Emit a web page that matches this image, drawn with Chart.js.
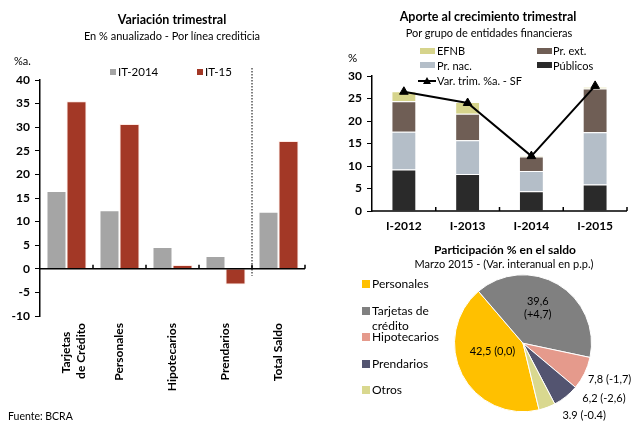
<!DOCTYPE html>
<html>
<head>
<meta charset="utf-8">
<script src="https://cdn.jsdelivr.net/npm/chart.js@4.4.1/dist/chart.umd.min.js"></script>
<style>
  body { margin: 0; background: #fff; font-family: Lato, sans-serif; color: #000; }
  #hoja { position: relative; width: 638px; height: 421px; overflow: hidden; }
  canvas { position: absolute; }
  .t { position: absolute; white-space: nowrap; line-height: 1; }
  .c { transform: translateX(-50%); }
  .b { font-weight: bold; }
  .sw { position: absolute; }
</style>
</head>
<body>
<div id="hoja">
  <canvas id="variacion" width="320" height="421" style="left:0;top:0"></canvas>
  <canvas id="aporte" width="308" height="235" style="left:330px;top:0"></canvas>
  <canvas id="participacion" width="308" height="186" style="left:330px;top:235px"></canvas>

  <!-- textos panel izquierdo -->
  <div class="t c b" style="left:172px;top:14px;font-size:12.5px">Variación trimestral</div>
  <div class="t c" style="left:172px;top:30px;font-size:11px">En % anualizado - Por línea crediticia</div>
  <div class="t" style="left:14px;top:55px;font-size:11px">%a.</div>
  <div class="sw" style="left:110px;top:69px;width:6px;height:6px;background:#a5a5a5"></div>
  <div class="t" style="left:118px;top:66px;font-size:11.5px">IT-2014</div>
  <div class="sw" style="left:197px;top:69px;width:6px;height:6px;background:#a33826"></div>
  <div class="t" style="left:205px;top:66px;font-size:11.5px">IT-15</div>
  <div class="t" style="left:8px;top:411px;font-size:10.5px">Fuente: BCRA</div>

  <!-- textos panel superior derecho -->
  <div class="t c b" style="left:488px;top:11px;font-size:12.5px">Aporte al crecimiento trimestral</div>
  <div class="t c" style="left:489px;top:27px;font-size:11px">Por grupo de entidades financieras</div>
  <div class="t" style="left:348px;top:52px;font-size:11.5px">%</div>
  <div class="sw" style="left:420px;top:48px;width:15px;height:6px;background:#d6d48c"></div>
  <div class="t" style="left:437px;top:45px;font-size:11px">EFNB</div>
  <div class="sw" style="left:537px;top:48px;width:15px;height:6px;background:#6f5e55"></div>
  <div class="t" style="left:553px;top:45px;font-size:11px">Pr. ext.</div>
  <div class="sw" style="left:420px;top:62px;width:15px;height:6px;background:#b4bec8"></div>
  <div class="t" style="left:437px;top:60px;font-size:11px">Pr. nac.</div>
  <div class="sw" style="left:537px;top:62px;width:15px;height:6px;background:#2a2a2a"></div>
  <div class="t" style="left:553px;top:60px;font-size:11px">Públicos</div>
  <div class="sw" style="left:418px;top:80px;width:18px;height:2px;background:#000"></div>
  <div class="sw" style="left:423px;top:77px;width:0;height:0;border-left:4px solid transparent;border-right:4px solid transparent;border-bottom:7px solid #000"></div>
  <div class="t" style="left:437px;top:75px;font-size:11px">Var. trim. %a. - SF</div>

  <!-- textos panel inferior derecho -->
  <div class="t c b" style="left:505px;top:244px;font-size:12px">Participación % en el saldo</div>
  <div class="t c" style="left:504px;top:258px;font-size:11px">Marzo 2015 - (Var. interanual en p.p.)</div>
  <div class="sw" style="left:362px;top:280px;width:8px;height:8px;background:#ffc000"></div>
  <div class="t" style="left:372px;top:278px;font-size:12px">Personales</div>
  <div class="sw" style="left:362px;top:307px;width:8px;height:8px;background:#808080"></div>
  <div class="t" style="left:372px;top:305px;font-size:12px">Tarjetas de</div>
  <div class="t" style="left:372px;top:320px;font-size:12px">crédito</div>
  <div class="sw" style="left:362px;top:333px;width:8px;height:8px;background:#e59a8c"></div>
  <div class="t" style="left:372px;top:331px;font-size:12px">Hipotecarios</div>
  <div class="sw" style="left:362px;top:360px;width:8px;height:8px;background:#535470"></div>
  <div class="t" style="left:372px;top:358px;font-size:12px">Prendarios</div>
  <div class="sw" style="left:362px;top:386px;width:8px;height:8px;background:#d9d88f"></div>
  <div class="t" style="left:372px;top:384px;font-size:12px">Otros</div>
</div>

<script>
// variacion trimestral por linea
const lineas = [['Tarjetas   ', 'de Crédito'], 'Personales', 'Hipotecarios', 'Prendarios', 'Total Saldo'];
const it2014 = [16.5, 12.4, 4.6, 2.7, 12.1];
const it2015 = [35.5, 30.7, 0.8, -3.3, 27.1];

// aporte por grupo de entidades
const trimestres = ['I-2012', 'I-2013', 'I-2014', 'I-2015'];
const publicos = [9.2, 8.2, 4.4, 5.9];
const prNac = [8.4, 7.5, 4.5, 11.6];
const prExt = [6.8, 5.9, 3.2, 9.7];
const efnb = [2.2, 2.6, 0.3, 0.4];
const varTrimSF = [26.5, 24.0, 12.2, 27.8];

// participacion en el saldo
const segmentos = ['Personales', 'Tarjetas de crédito', 'Hipotecarios', 'Prendarios', 'Otros'];
const participacion = [42.5, 39.6, 7.8, 6.2, 3.9];
const varInteranual = [0.0, 4.7, -1.7, -2.6, -0.4];
const separador = [',', ',', ',', ',', '.'];

Chart.defaults.font.family = 'Lato';
Chart.defaults.color = '#000';

const fuenteEje = { family: 'Lato', size: 12, weight: 'bold' };

// linea del cero con marcas entre categorias (y la punteada opcional)
const lineaCero = {
    id: 'lineaCero',
    afterDatasetsDraw(chart, args, opts) {
        const { ctx, chartArea: a, scales: { x, y } } = chart;
        const y0 = y.getPixelForValue(0);
        ctx.save();
        ctx.strokeStyle = '#000';
        ctx.lineWidth = 1.5;
        ctx.beginPath();
        ctx.moveTo(a.left, y0);
        ctx.lineTo(a.right, y0);
        for (let i = 1; i <= chart.data.labels.length; i++) {
            const xx = x.getPixelForValue(i - 0.5);
            ctx.moveTo(xx, y0);
            ctx.lineTo(xx, y0 - 4);
        }
        ctx.stroke();
        if (opts.divisor !== undefined) {
            const xd = x.getPixelForValue(opts.divisor);
            ctx.lineWidth = 1;
            ctx.setLineDash([1.5, 1.5]);
            ctx.beginPath();
            ctx.moveTo(xd, a.top - 12);
            ctx.lineTo(xd, y0 + 7);
            ctx.stroke();
        }
        ctx.restore();
    }
};

function ejeY(min, max, ancho) {
    return {
        min: min, max: max,
        ticks: { stepSize: 5, font: fuenteEje, padding: 5 },
        grid: { drawOnChartArea: false, drawTicks: true, tickLength: 5, color: '#000', lineWidth: 1 },
        border: { display: true, color: '#000', width: 1.5 },
        afterFit(scale) { scale.width = ancho; }
    };
}

new Chart(document.getElementById('variacion'), {
    type: 'bar',
    data: {
        labels: lineas,
        datasets: [
            { label: 'IT-2014', data: it2014, backgroundColor: '#a5a5a5', borderColor: 'rgba(255,255,255,0.7)', borderWidth: 1 },
            { label: 'IT-15', data: it2015, backgroundColor: '#a33826', borderColor: 'rgba(255,220,210,0.6)', borderWidth: 1 }
        ]
    },
    options: {
        responsive: false,
        animation: false,
        layout: { padding: { top: 80, right: 15, left: 0, bottom: 0 } },
        datasets: { bar: { categoryPercentage: 0.755, barPercentage: 1 } },
        scales: {
            x: {
                grid: { display: false, drawTicks: false },
                border: { display: false },
                ticks: { font: fuenteEje, minRotation: 90, maxRotation: 90, autoSkip: false, padding: 7 },
                afterFit(scale) { scale.height = 105; }
            },
            y: ejeY(-10, 40, 40)
        },
        plugins: {
            legend: { display: false },
            tooltip: { enabled: false },
            lineaCero: { divisor: 3.5 }
        }
    },
    plugins: [lineaCero]
});

new Chart(document.getElementById('aporte'), {
    type: 'bar',
    data: {
        labels: trimestres,
        datasets: [
            { type: 'line', label: 'Var. trim. %a. - SF', data: varTrimSF, stack: 'linea', order: 0,
              borderColor: '#000', backgroundColor: '#000', borderWidth: 2,
              pointStyle: 'triangle', pointRadius: 5, pointBorderWidth: 1 },
            { label: 'Públicos', data: publicos, backgroundColor: '#2a2a2a', order: 1 },
            { label: 'Pr. nac.', data: prNac, backgroundColor: '#b4bec8', order: 1 },
            { label: 'Pr. ext.', data: prExt, backgroundColor: '#6f5e55', order: 1 },
            { label: 'EFNB', data: efnb, backgroundColor: '#d6d48c', order: 1 }
        ]
    },
    options: {
        responsive: false,
        animation: false,
        layout: { padding: { top: 76, right: 11, left: 0, bottom: 0 } },
        datasets: { bar: { categoryPercentage: 0.39, barPercentage: 1, borderColor: 'rgba(255,255,255,0.8)', borderWidth: 1 } },
        scales: {
            x: {
                stacked: true,
                grid: { display: false, drawTicks: false },
                border: { display: false },
                ticks: { font: fuenteEje, maxRotation: 0, padding: 8 },
                afterFit(scale) { scale.height = 24; }
            },
            y: Object.assign(ejeY(0, 30, 42), { stacked: true })
        },
        plugins: {
            legend: { display: false },
            tooltip: { enabled: false }
        }
    },
    plugins: [lineaCero]
});

// etiquetas de la torta
function formato(v, i, conSigno) {
    let s = Math.abs(v).toFixed(1).replace('.', separador[i]);
    if (v < 0) s = '-' + s;
    else if (conSigno && v > 0) s = '+' + s;
    return s;
}

const etiquetasTorta = {
    id: 'etiquetasTorta',
    afterDatasetsDraw(chart, args, opts) {
        const { ctx } = chart;
        const meta = chart.getDatasetMeta(0);
        ctx.save();
        ctx.font = '11px Lato';
        ctx.fillStyle = '#000';
        ctx.textAlign = 'center';
        ctx.textBaseline = 'middle';
        meta.data.forEach((arco, i) => {
            const p = arco.getProps(['x', 'y', 'startAngle', 'endAngle', 'outerRadius'], true);
            const medio = (p.startAngle + p.endAngle) / 2;
            const pos = opts.posiciones[i];
            const cx = p.x + Math.cos(medio) * p.outerRadius * pos.r + pos.dx;
            const cy = p.y + Math.sin(medio) * p.outerRadius * pos.r + pos.dy;
            const valor = formato(participacion[i], i, false);
            const cambio = '(' + formato(varInteranual[i], i, true) + ')';
            const textos = pos.partir ? [valor, cambio] : [valor + ' ' + cambio];
            textos.forEach((t, k) => ctx.fillText(t, cx, cy + (k - (textos.length - 1) / 2) * 13.5));
        });
        ctx.restore();
    }
};

new Chart(document.getElementById('participacion'), {
    type: 'pie',
    data: {
        labels: segmentos,
        datasets: [{
            data: participacion,
            backgroundColor: ['#ffc000', '#808080', '#e59a8c', '#535470', '#d9d88f'],
            borderColor: '#fff',
            borderWidth: 1
        }]
    },
    options: {
        responsive: false,
        animation: false,
        rotation: 166.4,
        layout: { padding: { top: 39, right: 46, left: 124, bottom: 8.5 } },
        plugins: {
            legend: { display: false },
            tooltip: { enabled: false },
            etiquetasTorta: {
                posiciones: [
                    { r: 0.5, dx: 0, dy: -7 },
                    { r: 0.55, dx: -4.5, dy: -3, partir: true },
                    { r: 1, dx: 25, dy: 6 },
                    { r: 1, dx: 38, dy: 2 },
                    { r: 1, dx: 37, dy: 8 }
                ]
            }
        }
    },
    plugins: [etiquetasTorta]
});
</script>
</body>
</html>
